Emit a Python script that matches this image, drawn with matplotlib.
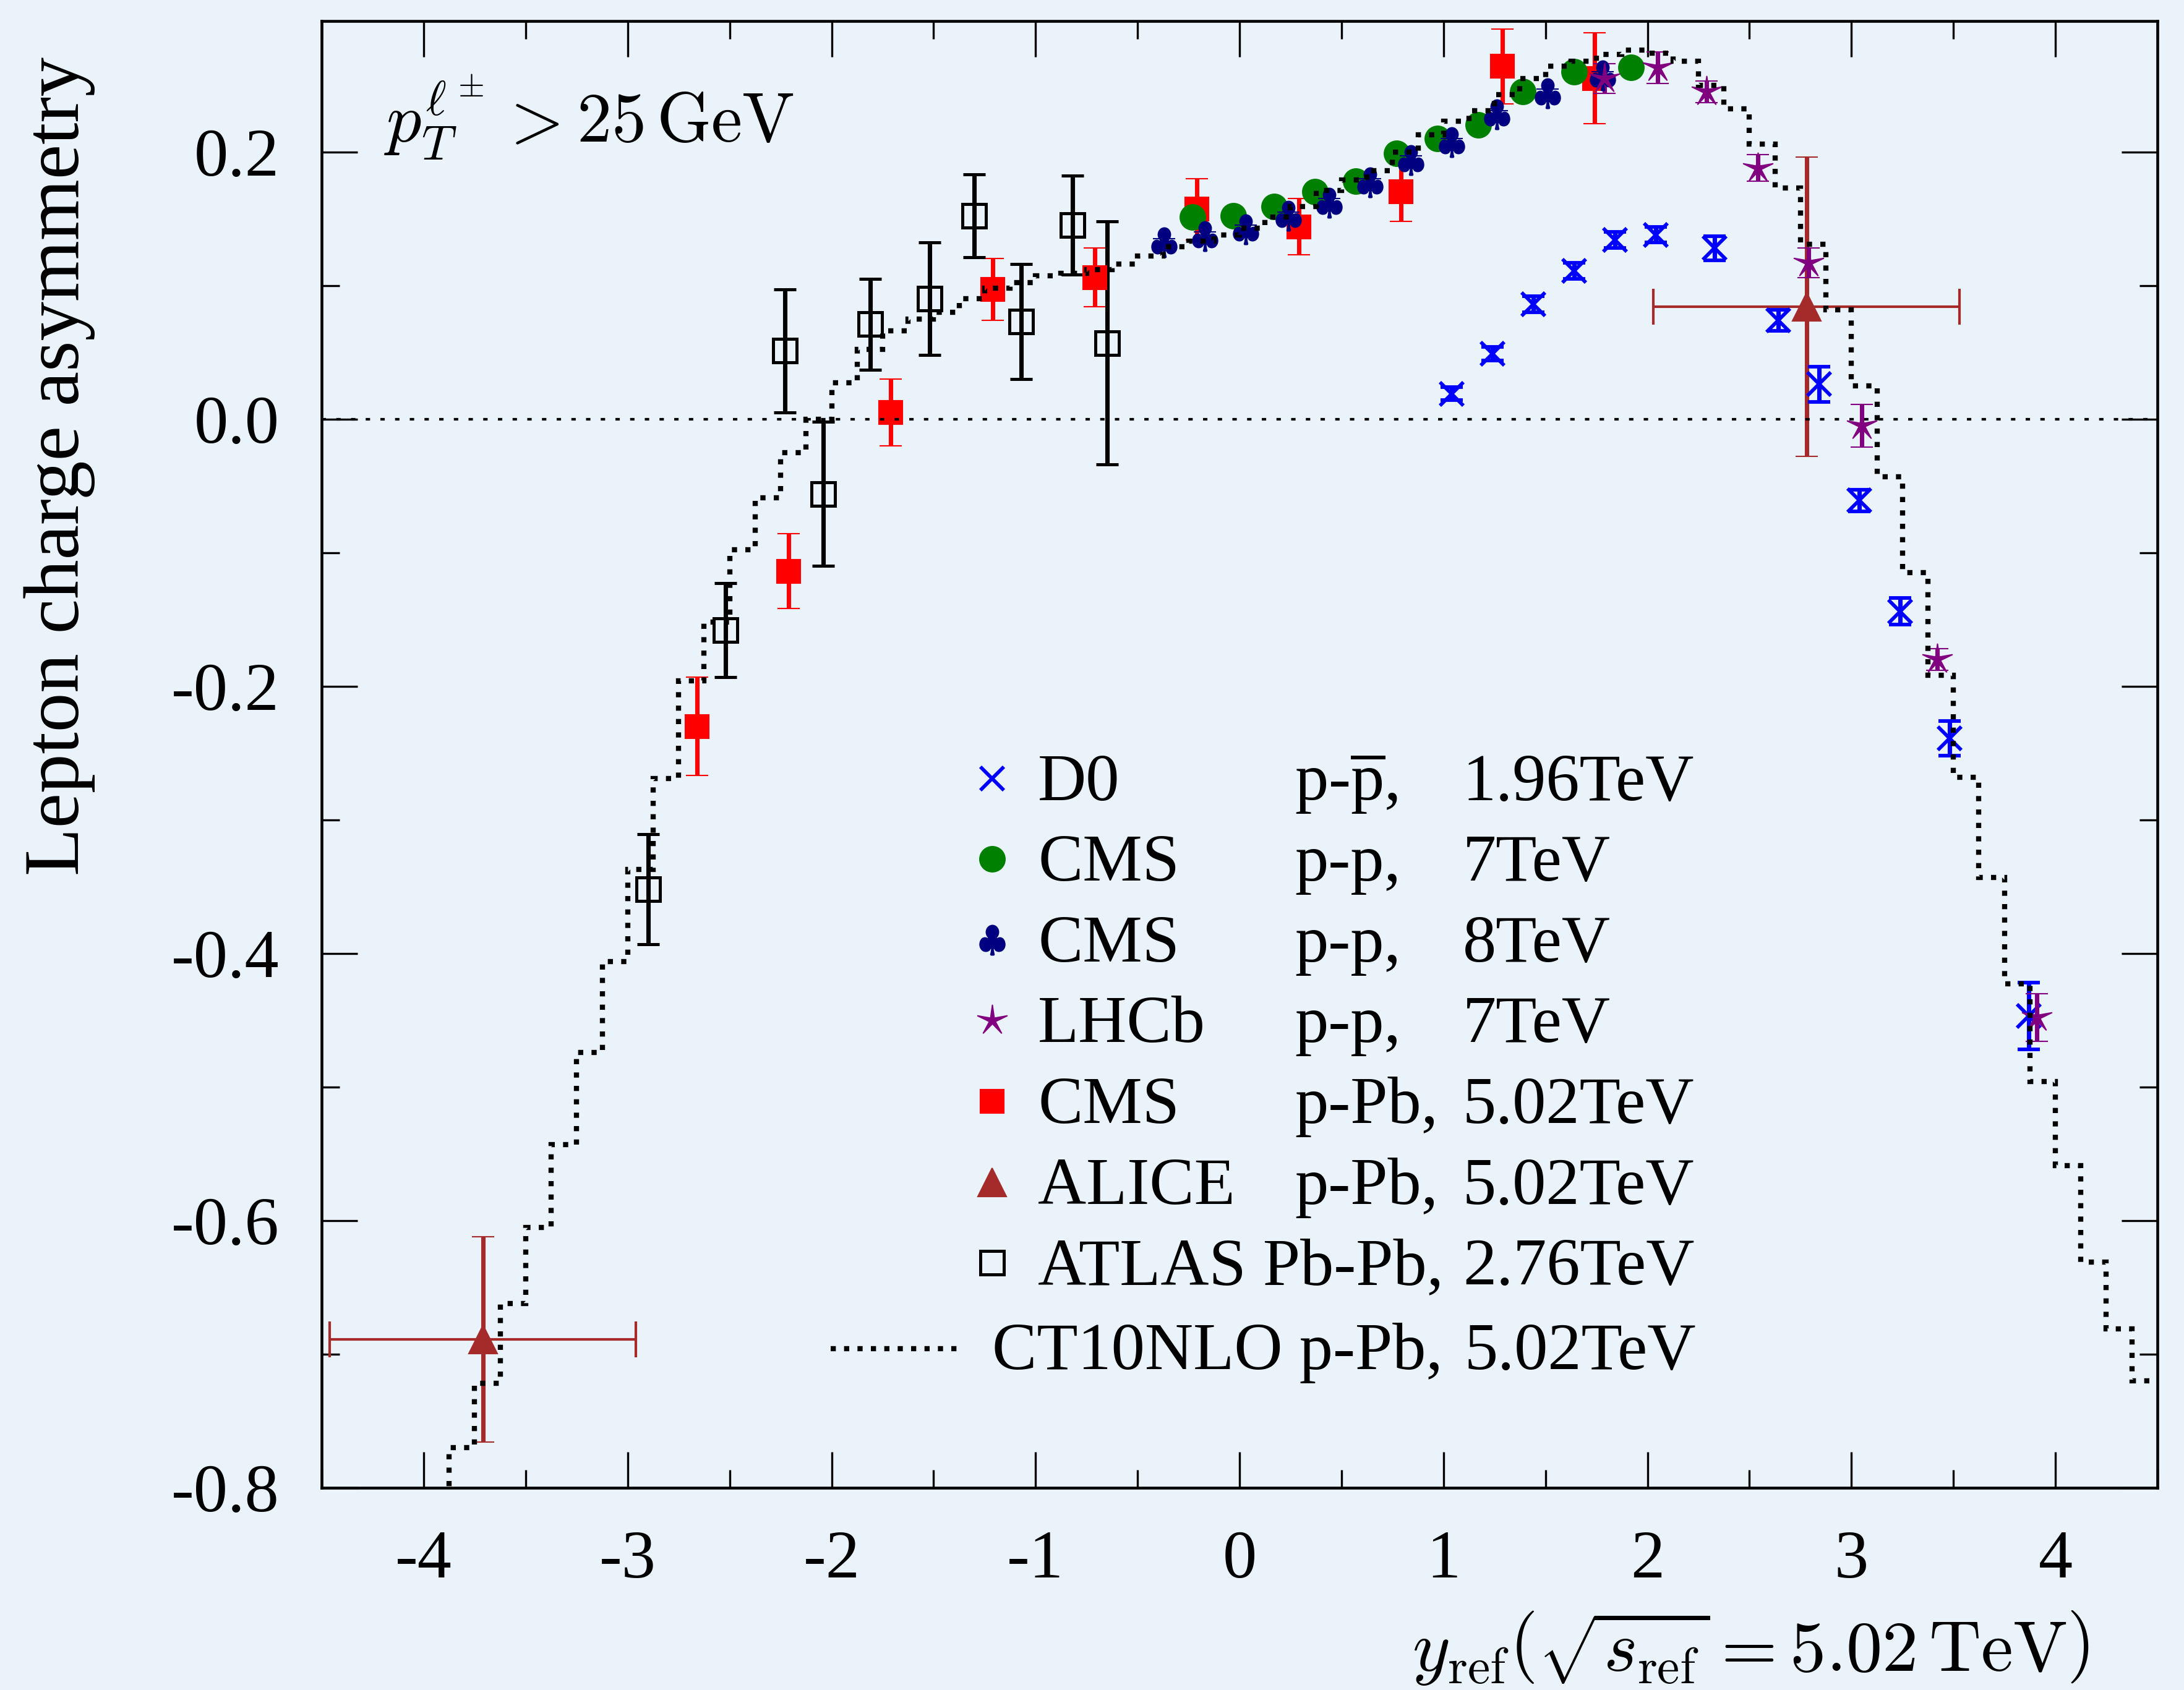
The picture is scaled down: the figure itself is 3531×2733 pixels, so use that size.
import numpy as np
import matplotlib

matplotlib.use("Agg")
import matplotlib.pyplot as plt
from matplotlib.path import Path
from matplotlib.ticker import MultipleLocator, FormatStrFormatter

# ---- data ----
# D0, p-pbar 1.96 TeV
d0_x = [1.04, 1.24, 1.44, 1.64, 1.84, 2.04, 2.33, 2.64, 2.84, 3.04, 3.24, 3.48, 3.87]
d0_y = [0.019, 0.049, 0.086, 0.111, 0.134, 0.138, 0.128, 0.074, 0.026, -0.061, -0.144, -0.239, -0.447]
d0_err = [0.005, 0.005, 0.006, 0.006, 0.006, 0.006, 0.009, 0.008, 0.013, 0.008, 0.010, 0.013, 0.025]

# CMS, p-p 7 TeV
cms7_x = [-0.23, -0.03, 0.17, 0.37, 0.57, 0.77, 0.97, 1.17, 1.39, 1.64, 1.92]
cms7_y = [0.151, 0.152, 0.159, 0.170, 0.178, 0.199, 0.210, 0.220, 0.245, 0.260, 0.263]

# CMS, p-p 8 TeV
cms8_x = [-0.37, -0.17, 0.03, 0.24, 0.44, 0.64, 0.84, 1.04, 1.26, 1.51, 1.78]
cms8_y = [0.132, 0.137, 0.142, 0.152, 0.162, 0.177, 0.194, 0.207, 0.228, 0.244, 0.257]
cms8_err = [0.003, 0.003, 0.003, 0.003, 0.003, 0.003, 0.003, 0.003, 0.003, 0.003, 0.003]

# LHCb, p-p 7 TeV
lhcb_x = [1.79, 2.05, 2.29, 2.54, 2.79, 3.05, 3.42, 3.91]
lhcb_y = [0.255, 0.263, 0.245, 0.188, 0.117, -0.005, -0.180, -0.448]
lhcb_err = [0.011, 0.012, 0.008, 0.010, 0.011, 0.016, 0.008, 0.018]

# CMS, p-Pb 5.02 TeV
cmspb_x = [-2.66, -2.21, -1.71, -1.21, -0.71, -0.21, 0.29, 0.79, 1.29, 1.74]
cmspb_y = [-0.230, -0.114, 0.005, 0.097, 0.106, 0.157, 0.144, 0.170, 0.264, 0.255]
cmspb_err = [0.037, 0.028, 0.025, 0.023, 0.022, 0.023, 0.021, 0.022, 0.028, 0.034]

# ALICE, p-Pb 5.02 TeV
alice_x = [-3.71, 2.78]
alice_y = [-0.689, 0.084]
alice_yerr = [0.077, 0.112]
alice_xerr = [0.75, 0.75]

# ATLAS, Pb-Pb 2.76 TeV
atlas_x = [-2.90, -2.52, -2.23, -2.04, -1.81, -1.52, -1.30, -1.07, -0.82, -0.65]
atlas_y = [-0.352, -0.158, 0.051, -0.056, 0.071, 0.090, 0.152, 0.073, 0.145, 0.057]
atlas_err = [0.041, 0.035, 0.046, 0.054, 0.034, 0.042, 0.031, 0.043, 0.037, 0.091]

# CT10NLO p-Pb 5.02 TeV prediction (histogram)
ct10_edges = [
    -4.0, -3.875, -3.75, -3.625, -3.5, -3.375, -3.25, -3.125,
    -3.0, -2.875, -2.75, -2.625, -2.5, -2.375, -2.25, -2.125,
    -2.0, -1.875, -1.75, -1.625, -1.5, -1.375, -1.25, -1.125,
    -1.0, -0.875, -0.75, -0.625, -0.5, -0.375, -0.25, -0.125,
    0.0, 0.125, 0.25, 0.375, 0.5, 0.625, 0.75, 0.875,
    1.0, 1.125, 1.25, 1.375, 1.5, 1.625, 1.75, 1.875,
    2.0, 2.125, 2.25, 2.375, 2.5, 2.625, 2.75, 2.875,
    3.0, 3.125, 3.25, 3.375, 3.5, 3.625, 3.75, 3.875,
    4.0, 4.125, 4.25, 4.375, 4.5,
]
ct10_vals = [
    -0.850, -0.770, -0.722, -0.662, -0.605, -0.543, -0.474, -0.406,
    -0.337, -0.269, -0.196, -0.152, -0.098, -0.059, -0.025, 0.000,
    0.027, 0.052, 0.066, 0.075, 0.080, 0.090, 0.098, 0.102,
    0.107, 0.109, 0.112, 0.116, 0.122, 0.129, 0.133, 0.138,
    0.143, 0.151, 0.159, 0.171, 0.179, 0.186, 0.200, 0.213,
    0.223, 0.231, 0.243, 0.255, 0.264, 0.268, 0.273, 0.276,
    0.274, 0.268, 0.250, 0.232, 0.206, 0.173, 0.131, 0.082,
    0.025, -0.043, -0.115, -0.192, -0.268, -0.343, -0.423, -0.496,
    -0.559, -0.631, -0.681, -0.720,
]

legend_names = ["D0", "CMS", "CMS", "LHCb", "CMS", "ALICE", "ATLAS Pb-Pb,"]
legend_systems = [r"p-$\overline{\mathrm{p}}$,", "p-p,", "p-p,", "p-p,", "p-Pb,", "p-Pb,", ""]
legend_energies = ["1.96TeV", "7TeV", "8TeV", "7TeV", "5.02TeV", "5.02TeV", "2.76TeV"]

# ---- style ----
BG = "#eaf2fa"
plt.rcParams["font.family"] = ["Liberation Serif", "DejaVu Serif"]
plt.rcParams["mathtext.fontset"] = "cm"
plt.rcParams["mathtext.rm"] = "Liberation Serif"
plt.rcParams["axes.unicode_minus"] = False

# thin five-pointed star for LHCb
ang = np.pi / 2 + np.arange(10) * np.pi / 5
rad = np.where(np.arange(10) % 2 == 0, 1.0, 0.2)
star_verts = np.column_stack([rad * np.cos(ang), rad * np.sin(ang)])
star = Path(np.vstack([star_verts, star_verts[:1]]), closed=True)

styles = {
    "d0": dict(marker="x", color="#0000ff", ms=9, mew=1.4),
    "cms7": dict(marker="o", color="#008000", ms=9.8, mew=0.5),
    "cms8": dict(marker=r"$\clubsuit$", color="#000080", ms=11.5, mew=0.5),
    "lhcb": dict(marker=star, color="#800080", ms=12, mew=0.5),
    "cmspb": dict(marker="s", color="#ff0000", ms=9.3, mew=0.5),
    "alice": dict(marker="^", color="#a52a2a", ms=11, mew=0.5),
    "atlas": dict(marker="s", color="black", ms=9.2, mew=1.2, mfc="none"),
}
eb = dict(ls="none", elinewidth=1.7, capsize=4.3, capthick=1.6)

fig = plt.figure(figsize=(3531 / 300, 2733 / 300), dpi=300, facecolor=BG)
ax = fig.add_axes([0.1473, 0.1197, 0.8405, 0.8679], facecolor=BG)

ax.errorbar(cmspb_x, cmspb_y, yerr=cmspb_err, ecolor="#ff0000", zorder=2, **styles["cmspb"], **eb)
ax.errorbar(alice_x, alice_y, xerr=alice_xerr, ls="none", ecolor="#a52a2a",
            elinewidth=1.0, capsize=7, capthick=1.0, zorder=2)
ax.errorbar(alice_x, alice_y, yerr=alice_yerr, ecolor="#a52a2a", zorder=2, **styles["alice"], **eb)
ax.errorbar(atlas_x, atlas_y, yerr=atlas_err, ecolor="black", zorder=2, **styles["atlas"], **eb)
ax.errorbar(d0_x, d0_y, yerr=d0_err, ecolor="#0000ff", zorder=3, **styles["d0"], **eb)
ax.plot(cms7_x, cms7_y, ls="none", zorder=3, **styles["cms7"])
ax.errorbar(cms8_x, cms8_y, yerr=cms8_err, ecolor="#000080", zorder=4, **styles["cms8"], **eb)
ax.errorbar(lhcb_x, lhcb_y, yerr=lhcb_err, ecolor="#800080", zorder=4, **styles["lhcb"], **eb)

dots = (0, (1, 1.6))
ax.stairs(ct10_vals, ct10_edges, baseline=None, color="black", lw=2.0, linestyle=dots, zorder=6)
ax.axhline(0.0, color="black", lw=1.0, linestyle=(0, (1.7, 4)), zorder=6)

ax.set_xlim(-4.5, 4.5)
ax.set_ylim(-0.8, 0.298)
ax.xaxis.set_major_locator(MultipleLocator(1))
ax.xaxis.set_minor_locator(MultipleLocator(0.5))
ax.yaxis.set_major_locator(MultipleLocator(0.2))
ax.yaxis.set_minor_locator(MultipleLocator(0.1))
ax.xaxis.set_major_formatter(FormatStrFormatter("%d"))
ax.yaxis.set_major_formatter(FormatStrFormatter("%.1f"))
ax.tick_params(which="both", direction="in", top=True, right=True, width=0.8, labelsize=26.5)
ax.tick_params(which="major", length=14, pad=16.5)
ax.tick_params(which="minor", length=7)
for sp in ax.spines.values():
    sp.set_linewidth(1.1)

ax.set_ylabel("Lepton charge asymmetry", fontsize=30.5)
ax.yaxis.set_label_coords(-0.1233, 0.6965)
fig.text(0.9567, 0.011, r"$y_{\rm ref}\left(\sqrt{s_{\rm ref}} = 5.02\,{\rm TeV}\right)$",
         fontsize=28, ha="right", va="baseline")
ax.text(0.0339, 0.917, r"$p_T^{\ell^\pm} > 25\,{\rm GeV}$", transform=ax.transAxes,
        fontsize=27, ha="left", va="baseline")

# hand-built legend
keys = ["d0", "cms7", "cms8", "lhcb", "cmspb", "alice", "atlas"]
row0, step = 0.4689, 0.05506
lfs = 26
for i, key in enumerate(keys):
    yb = row0 - i * step
    ax.plot([0.3652], [yb + 0.0148], transform=ax.transAxes, ls="none", clip_on=False, **styles[key])
    ax.text(0.3902, yb, legend_names[i], transform=ax.transAxes, fontsize=lfs, va="baseline")
    if legend_systems[i]:
        ax.text(0.5300, yb, legend_systems[i], transform=ax.transAxes, fontsize=lfs,
                va="baseline", math_fontfamily="custom")
    ax.text(0.6216, yb, legend_energies[i], transform=ax.transAxes, fontsize=lfs, va="baseline")
yb = 0.0807
ax.plot([0.2773, 0.3497], [yb + 0.0142] * 2, transform=ax.transAxes, color="black",
        lw=2.0, linestyle=dots, clip_on=False)
ax.text(0.3652, yb, "CT10NLO p-Pb,", transform=ax.transAxes, fontsize=lfs, va="baseline")
ax.text(0.6225, yb, "5.02TeV", transform=ax.transAxes, fontsize=lfs, va="baseline")

fig.savefig("out.png", dpi=300, facecolor=BG)
